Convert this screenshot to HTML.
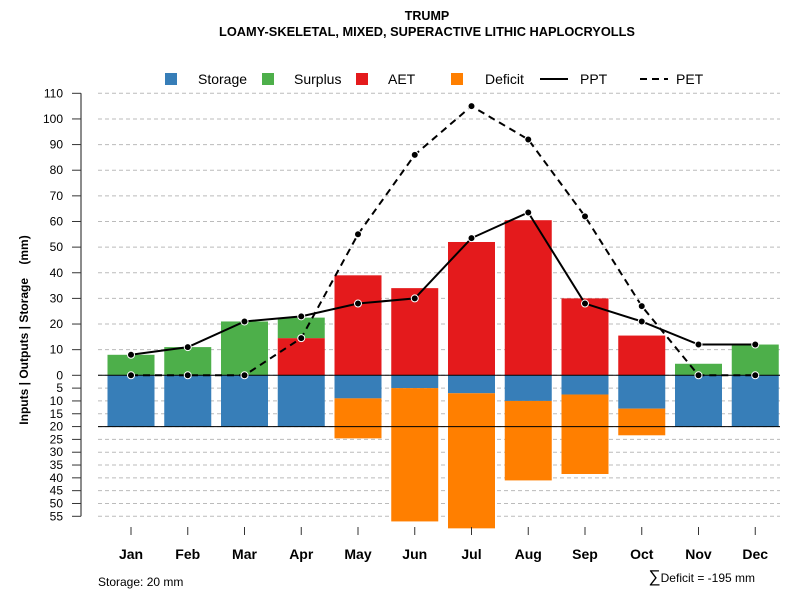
<!DOCTYPE html>
<html><head><meta charset="utf-8"><style>
body{margin:0;background:#fff;}
svg text{font-family:"Liberation Sans",Arial,sans-serif;}
</style></head><body>
<svg id="c" width="800" height="600" xmlns="http://www.w3.org/2000/svg">
<text x="427" y="20" text-anchor="middle" font-size="12.5" font-weight="bold">TRUMP</text>
<text x="427" y="36" text-anchor="middle" font-size="12.8" font-weight="bold">LOAMY-SKELETAL, MIXED, SUPERACTIVE LITHIC HAPLOCRYOLLS</text>
<g>
<rect x="165" y="73" width="12" height="12" fill="#377EB8"/>
<text x="198" y="84" font-size="14">Storage</text>
<rect x="262" y="73" width="12" height="12" fill="#4DAF4A"/>
<text x="294" y="84" font-size="14">Surplus</text>
<rect x="356" y="73" width="12" height="12" fill="#E41A1C"/>
<text x="388" y="84" font-size="14">AET</text>
<rect x="451" y="73" width="12" height="12" fill="#FF7F00"/>
<text x="485" y="84" font-size="14">Deficit</text>
<line x1="540" y1="79" x2="568" y2="79" stroke="#000" stroke-width="2"/>
<text x="580" y="84" font-size="14">PPT</text>
<line x1="640" y1="79" x2="668" y2="79" stroke="#000" stroke-width="2" stroke-dasharray="7,5"/>
<text x="676" y="84" font-size="14">PET</text>
</g>
<text transform="translate(28,330) rotate(-90)" text-anchor="middle" font-size="12" font-weight="bold" style="white-space:pre" xml:space="preserve">Inputs | Outputs | Storage    (mm)</text>
<text x="98" y="586" font-size="12">Storage: 20 mm</text>
<text x="755" y="582" text-anchor="end" font-size="12"><tspan font-size="17">∑</tspan>Deficit = -195 mm</text>
<g id="plot"></g>
</svg>
<script>
const months=["Jan","Feb","Mar","Apr","May","Jun","Jul","Aug","Sep","Oct","Nov","Dec"];
const storage=[20,20,20,20,9,5,7,10,7.5,13,20,20];
const deficit=[0,0,0,0,15.6,52,52.7,31,31,10.4,0,0];
const aet=[0,0,0,14.5,39,34,52,60.5,30,15.5,0,0];
const surplus=[8,11,21,8,0,0,0,0,0,0,4.5,12];
const ppt=[8,11,21,23,28,30,53.5,63.5,28,21,12,12];
const pet=[0,0,0,14.5,55,86,105,92,62,27,0,0];
const upTicks=[0,10,20,30,40,50,60,70,80,90,100,110];
const downTicks=[5,10,15,20,25,30,35,40,45,50,55];
const storageCap=20;

const NS="http://www.w3.org/2000/svg";
const g=document.getElementById('plot');
const y0=375.3, k=2.5636;
const Y=v=>y0-v*k;
const X=i=>131+i*56.75;
const bw=47;
function mk(t,a){const e=document.createElementNS(NS,t);for(const n in a)e.setAttribute(n,a[n]);g.appendChild(e);return e;}
let ax=mk('line',{x1:81,y1:Y(110),x2:81,y2:Y(-55),stroke:'#666','stroke-width':1.5});


upTicks.forEach(v=>{
 const gl=mk('line',{x1:98,y1:Y(v),x2:780,y2:Y(v),stroke:'#bbb','stroke-dasharray':'4,3'});
 
 
 const tk=mk('line',{x1:72,y1:Y(v),x2:81,y2:Y(v),stroke:'#333'});
 
 
 const t=mk('text',{x:63,y:Y(v)+4,'text-anchor':'end','font-size':12});t.textContent=v;
 
 
});
downTicks.forEach(v=>{
 const gl=mk('line',{x1:98,y1:Y(-v),x2:780,y2:Y(-v),stroke:'#bbb','stroke-dasharray':'4,3'});
 
 
 const tk=mk('line',{x1:72,y1:Y(-v),x2:81,y2:Y(-v),stroke:'#333'});
 
 
 const t=mk('text',{x:63,y:Y(-v)+4,'text-anchor':'end','font-size':12});t.textContent=v;
 
 
});
months.forEach((m,i)=>{
 const x=X(i),l=x-bw/2;
 if(storage[i]>0){const r=mk('rect',{x:l,y:Y(0),width:bw,height:storage[i]*k,fill:'#377EB8'});
  
  }
 if(deficit[i]>0){const r=mk('rect',{x:l,y:Y(-storage[i]),width:bw,height:deficit[i]*k,fill:'#FF7F00'});
  
  }
 if(aet[i]>0){const r=mk('rect',{x:l,y:Y(aet[i]),width:bw,height:aet[i]*k,fill:'#E41A1C'});
  
  }
 if(surplus[i]>0){const r=mk('rect',{x:l,y:Y(aet[i]+surplus[i]),width:bw,height:surplus[i]*k,fill:'#4DAF4A'});
  
  }
 const tk=mk('line',{x1:x,y1:527,x2:x,y2:535,stroke:'#333'});
 
 
 const t=mk('text',{x:x,y:559,'text-anchor':'middle','font-size':14,'font-weight':'bold'});t.textContent=m;
 
 
});
let zl=mk('line',{x1:98,y1:Y(0),x2:780,y2:Y(0),stroke:'#000','stroke-width':1});


let sl=mk('line',{x1:98,y1:Y(-storageCap),x2:780,y2:Y(-storageCap),stroke:'#000','stroke-width':1});


function series(vals,name,dash){
 const p=mk('polyline',{points:vals.map((v,i)=>X(i)+','+Y(v)).join(' '),fill:'none',stroke:'#000','stroke-width':2,'stroke-dasharray':dash});
 
 
 vals.forEach((v,i)=>{const c=mk('circle',{cx:X(i),cy:Y(v),r:3.5,fill:'#000',stroke:'#fff','stroke-width':1});
  
  });
}
series(pet,'pet','7,5');
series(ppt,'ppt','none');
</script>
</body></html>
